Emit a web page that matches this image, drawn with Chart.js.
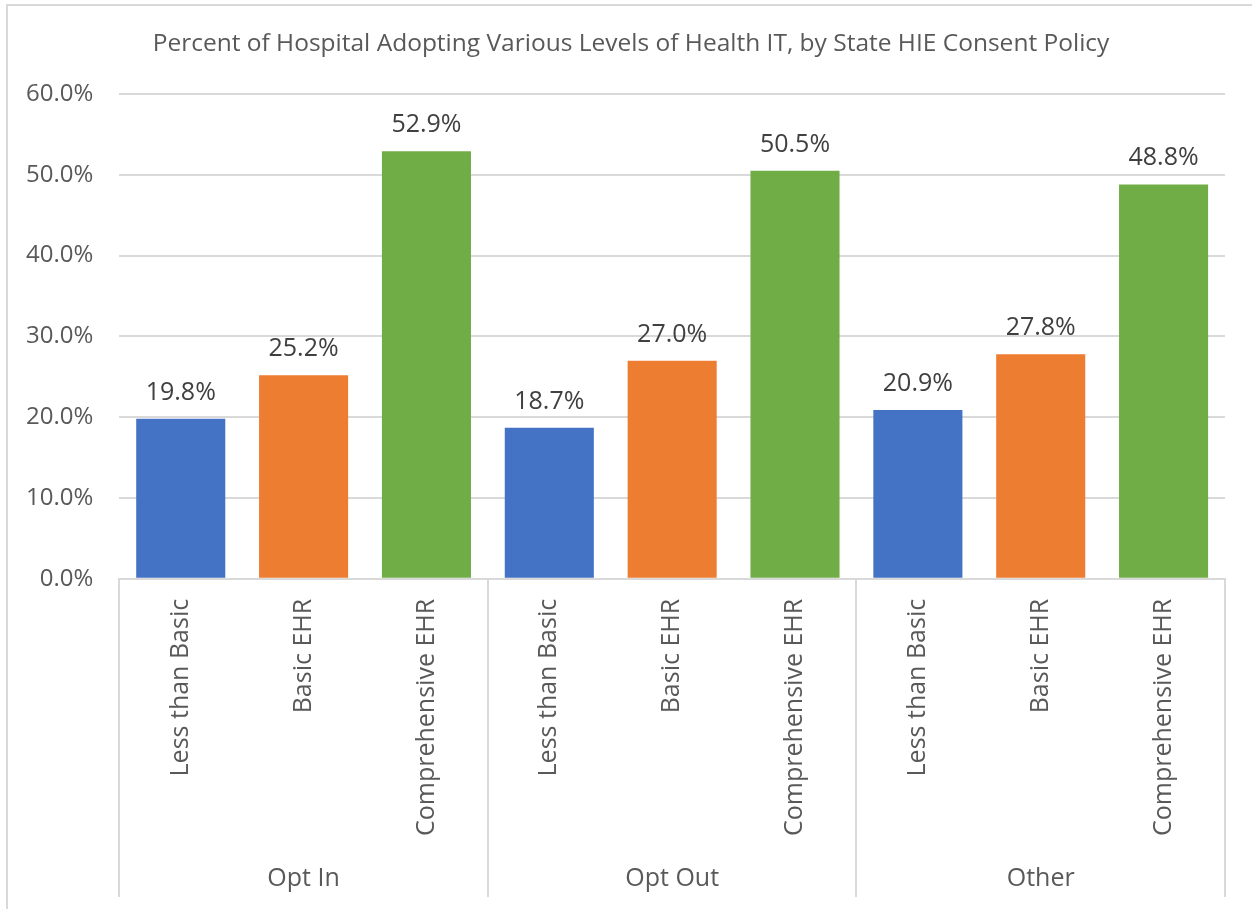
<!DOCTYPE html>
<html>
<head>
<meta charset="utf-8">
<script src="https://cdn.jsdelivr.net/npm/chart.js@4.4.0/dist/chart.umd.min.js"></script>
<style>
  html, body { margin: 0; padding: 0; background: #fff; }
  .wrap { position: relative; width: 1252px; height: 909px; }
</style>
</head>
<body>
<div class="wrap"><canvas id="chart" width="1252" height="909"></canvas></div>
<script>
const title = "Percent of Hospital Adopting Various Levels of Health IT, by State HIE Consent Policy";
const groups = ["Opt In", "Opt Out", "Other"];
const levels = ["Less than Basic", "Basic EHR", "Comprehensive EHR"];
const optInValues = [19.8, 25.2, 52.9];
const optOutValues = [18.7, 27.0, 50.5];
const otherValues = [20.9, 27.8, 48.8];
const levelColors = ["#4472C4", "#ED7D31", "#70AD47"];
const yTicks = [0, 10, 20, 30, 40, 50, 60];

const labels = [];
const values = [];
const colors = [];
[optInValues, optOutValues, otherValues].forEach((vals) => {
  vals.forEach((v, i) => {
    labels.push(levels[i]);
    values.push(v);
    colors.push(levelColors[i]);
  });
});

const FONT = "'Open Sans', sans-serif";
const TEXT = "#595959";
const LINE = "#d9d9d9";

// outer frame of the chart object + title (centred on the whole frame)
const framePlugin = {
  id: "frame",
  beforeDraw(chart) {
    const ctx = chart.ctx;
    ctx.save();
    ctx.strokeStyle = LINE;
    ctx.lineWidth = 2;
    ctx.beginPath();
    ctx.moveTo(7, 909);
    ctx.lineTo(7, 5);
    ctx.lineTo(1252, 5);
    ctx.stroke();
    ctx.font = "24.5px " + FONT;
    ctx.fillStyle = TEXT;
    ctx.textAlign = "center";
    ctx.textBaseline = "middle";
    ctx.fillText(title, 631, 44);
    ctx.restore();
  },
};

// value labels above each bar
const valueLabels = {
  id: "valueLabels",
  afterDatasetsDraw(chart) {
    const ctx = chart.ctx;
    const meta = chart.getDatasetMeta(0);
    ctx.save();
    ctx.font = "25px " + FONT;
    ctx.fillStyle = "#404040";
    ctx.textAlign = "center";
    ctx.textBaseline = "alphabetic";
    meta.data.forEach((bar, i) => {
      ctx.fillText(values[i].toFixed(1) + "%", bar.x, bar.y - 19);
    });
    ctx.restore();
  },
};

// second row of the category axis: group separators and names
const groupAxis = {
  id: "groupAxis",
  afterDraw(chart) {
    const ctx = chart.ctx;
    const x = chart.scales.x;
    const area = chart.chartArea;
    const slot = (x.right - x.left) / labels.length;
    const bottom = 897;
    ctx.save();
    ctx.strokeStyle = LINE;
    ctx.lineWidth = 2;
    for (let g = 0; g <= groups.length; g++) {
      const px = Math.round(x.left + g * levels.length * slot);
      ctx.beginPath();
      ctx.moveTo(px, area.bottom);
      ctx.lineTo(px, bottom);
      ctx.stroke();
    }
    ctx.font = "25px " + FONT;
    ctx.fillStyle = TEXT;
    ctx.textAlign = "center";
    ctx.textBaseline = "alphabetic";
    groups.forEach((name, g) => {
      const cx = x.left + (g + 0.5) * levels.length * slot;
      ctx.fillText(name, cx, 886);
    });
    ctx.restore();
  },
};

new Chart(document.getElementById("chart"), {
  type: "bar",
  data: {
    labels: labels,
    datasets: [
      {
        data: values,
        backgroundColor: colors,
        barPercentage: 0.725,
        categoryPercentage: 1.0,
      },
    ],
  },
  options: {
    responsive: false,
    animation: false,
    layout: { padding: { top: 94, right: 27, bottom: 61, left: 0 } },
    plugins: {
      legend: { display: false },
      tooltip: { enabled: false },
      title: { display: false },
    },
    scales: {
      x: {
        grid: { display: false },
        border: { display: true, color: LINE, width: 2 },
        ticks: {
          color: TEXT,
          font: { family: FONT, size: 25 },
          minRotation: 90,
          maxRotation: 90,
          padding: 12,
        },
      },
      y: {
        min: 0,
        max: 60,
        afterBuildTicks(axis) {
          axis.ticks = yTicks.map((v) => ({ value: v }));
        },
        grid: { color: LINE, lineWidth: 2, drawTicks: false },
        border: { display: false },
        ticks: {
          color: TEXT,
          font: { family: FONT, size: 24 },
          padding: 26,
          callback: (v) => v.toFixed(1) + "%",
        },
      },
    },
  },
  plugins: [framePlugin, valueLabels, groupAxis],
});
</script>
</body>
</html>
